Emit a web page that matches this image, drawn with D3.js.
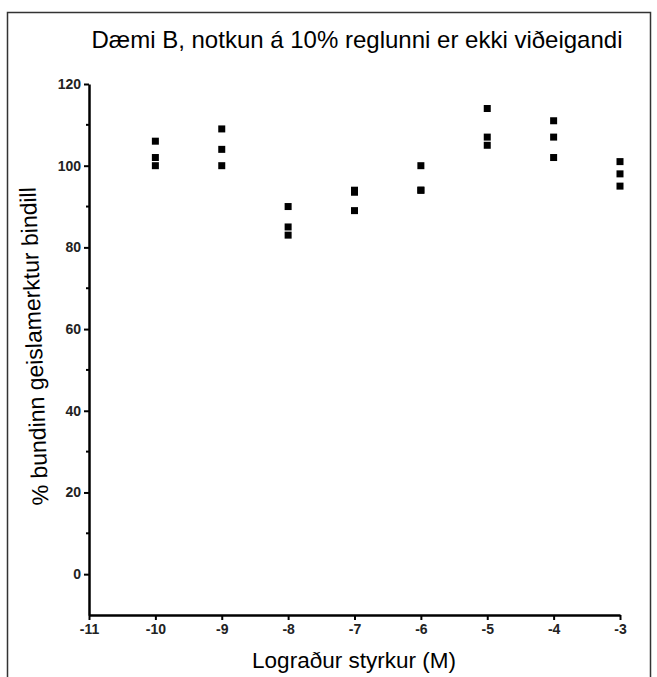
<!DOCTYPE html>
<html>
<head>
<meta charset="utf-8">
<title>Dæmi B</title>
<style>
  html, body { margin: 0; padding: 0; background: #fff; }
  svg { display: block; font-family: "Liberation Sans", Arial, sans-serif; }
  .tick text { font-size: 14px; font-weight: bold; fill: #222; font-family: "Liberation Sans", Arial, sans-serif; }
</style>
</head>
<body>
<svg id="svg" width="657" height="677"></svg>
<script src="https://d3js.org/d3.v7.min.js"></script>
<script>
// log concentration (M) and three replicates of % bound radioligand
const logConc = [-10, -9, -8, -7, -6, -5, -4, -3]
const rep1 = [106, 109, 90, 94, 100, 114, 111, 101]
const rep2 = [102, 104, 85, 93.5, 94, 107, 107, 98]
const rep3 = [100, 100, 83, 89, 94, 105, 102, 95]
const xTicks = [-11, -10, -9, -8, -7, -6, -5, -4, -3]
const yTicks = [0, 20, 40, 60, 80, 100, 120]
const yMinor = [10, 30, 50, 70, 90, 110]

const svg = d3.select('#svg')

// outer frame
svg.append('rect')
  .attr('x', 7.5).attr('y', 12.5)
  .attr('width', 643).attr('height', 700)
  .attr('fill', 'none')
  .attr('stroke', '#333')
  .attr('stroke-width', 1.5)

const xscale = d3.scaleLinear().domain([-11, -3]).range([89, 620])
const yscale = d3.scaleLinear().domain([-10, 120]).range([615, 84])

// points
const points = []
logConc.forEach((c, i) => {
  points.push({ x: c, y: rep1[i] })
  points.push({ x: c, y: rep2[i] })
  points.push({ x: c, y: rep3[i] })
})
const s = 7
svg.append('g')
  .selectAll('rect')
  .data(points)
  .enter()
  .append('rect')
  .attr('x', d => xscale(d.x) - s / 2)
  .attr('y', d => yscale(d.y) - s / 2)
  .attr('width', s)
  .attr('height', s)
  .attr('fill', '#000')

const fmt = d => String(d) // plain hyphen minus like the original

// y axis
const leftAxis = d3.axisLeft(yscale).tickValues(yTicks).tickFormat(fmt)
  .tickSize(5).tickPadding(3).tickSizeOuter(0)
const gy = svg.append('g')
  .attr('transform', `translate(${xscale(-11)}, 0)`)
  .call(leftAxis)
gy.select('.domain').attr('stroke-width', 2.5)
gy.selectAll('.tick line').attr('stroke-width', 2)
gy.selectAll('.minor')
  .data(yMinor)
  .enter()
  .append('line')
  .attr('x1', -3).attr('x2', 0)
  .attr('y1', d => yscale(d)).attr('y2', d => yscale(d))
  .attr('stroke', '#000').attr('stroke-width', 2)

// x axis
const bottomAxis = d3.axisBottom(xscale).tickValues(xTicks).tickFormat(fmt)
  .tickSize(5).tickPadding(4).tickSizeOuter(0)
const gx = svg.append('g')
  .attr('transform', `translate(0, ${yscale(-10)})`)
  .call(bottomAxis)
gx.select('.domain').attr('stroke-width', 2.5)
gx.selectAll('.tick line').attr('stroke-width', 2)

// texts
svg.append('text')
  .attr('x', 357).attr('y', 48)
  .attr('text-anchor', 'middle')
  .attr('font-size', 24)
  .text('Dæmi B, notkun á 10% reglunni er ekki viðeigandi')

svg.append('text')
  .attr('x', 354).attr('y', 668)
  .attr('text-anchor', 'middle')
  .attr('font-size', 22.5)
  .text('Lograður styrkur (M)')

svg.append('text')
  .attr('transform', 'translate(42, 346) rotate(-92.3)')
  .attr('text-anchor', 'middle')
  .attr('font-size', 23)
  .text('% bundinn geislamerktur bindill')
</script>
</body>
</html>
